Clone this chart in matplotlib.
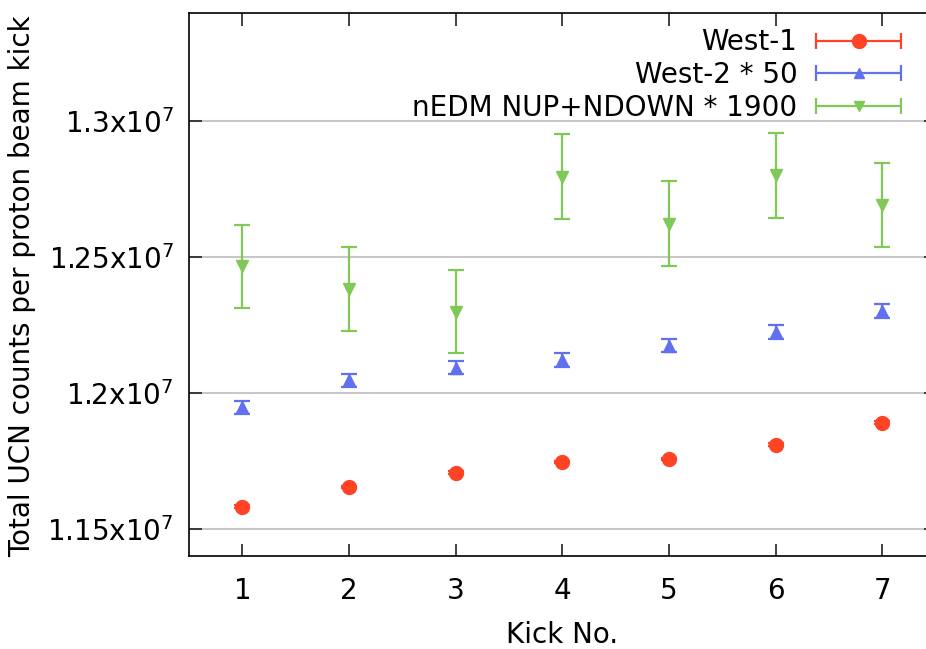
import matplotlib
matplotlib.use('Agg')
import matplotlib.pyplot as plt
from matplotlib.ticker import FixedLocator, FuncFormatter
from matplotlib.legend_handler import HandlerErrorbar
import numpy as np

# kick number
kicks = [1, 2, 3, 4, 5, 6, 7]

# West-1 counts
west1 = [1.1582e7, 1.1655e7, 1.1707e7, 1.1746e7, 1.1757e7, 1.1810e7, 1.1891e7]
west1_err = [4000, 4000, 4000, 4000, 4000, 4000, 4000]

# West-2 counts * 50
west2 = [1.19475e7, 1.20463e7, 1.20933e7, 1.21197e7, 1.21741e7, 1.22248e7, 1.23016e7]
west2_err = [24000, 24500, 25000, 25500, 25000, 25500, 26000]

# nEDM NUP+NDOWN * 1900
nedm = [1.24655e7, 1.23824e7, 1.2299e7, 1.27961e7, 1.26234e7, 1.28012e7, 1.26921e7]
nedm_err = [153000, 153000, 152000, 156000, 155000, 156000, 155000]

yticks = [1.15e7, 1.2e7, 1.25e7, 1.3e7]

red = '#ff4426'
blue = '#6070ee'
green = '#80c858'

plt.rcParams['font.family'] = 'DejaVu Sans'
plt.rcParams['font.size'] = 20

fig = plt.figure(figsize=(9.26, 6.49), dpi=100)
ax = fig.add_axes([189 / 926, 93 / 649, 746.6 / 926, 543.5 / 649])

common = dict(linestyle='none', elinewidth=1.6, capthick=1.6, capsize=5.5)
ax.errorbar(kicks, west1, yerr=west1_err, fmt='o', color=red, ms=10, **common)
ax.errorbar(kicks, west2, yerr=west2_err, fmt='^', color=blue, ms=8, **common)
ax.errorbar(kicks, nedm, yerr=nedm_err, fmt='v', color=green, ms=8, **common)

# legend proxies: horizontal error bar with marker in the middle, like the gnuplot key
h1 = ax.errorbar([np.nan], [np.nan], xerr=[1], fmt='o', color=red, ms=10, label='West-1', **common)
h2 = ax.errorbar([np.nan], [np.nan], xerr=[1], fmt='^', color=blue, ms=7, label='West-2 * 50', **common)
h3 = ax.errorbar([np.nan], [np.nan], xerr=[1], fmt='v', color=green, ms=7,
                 label='nEDM NUP+NDOWN * 1900', **common)

leg = ax.legend(handles=[h1, h2, h3], loc='upper right', bbox_to_anchor=(901 / 926, 1 - 28.5 / 649),
                bbox_transform=fig.transFigure, frameon=False, markerfirst=False, borderpad=0,
                borderaxespad=0, handlelength=3.05, handletextpad=0.68, labelspacing=0.17,
                handler_map={type(h1): HandlerErrorbar(xerr_size=1.52)})

ax.set_xlim(0.5, 7.5)
ax.set_ylim(1.14e7, 1.34e7)
ax.xaxis.set_major_locator(FixedLocator(kicks))
ax.yaxis.set_major_locator(FixedLocator(yticks))
ax.yaxis.set_major_formatter(FuncFormatter(lambda v, p: '%gx10$^{7}$' % (v / 1e7)))

ax.grid(axis='y', color='#c8c8c8', linewidth=1.5)
ax.set_axisbelow(True)
ax.tick_params(direction='in', length=9, width=1.2, top=True, right=True, color='#222222')
ax.tick_params(axis='x', pad=15)
ax.tick_params(axis='y', pad=11)
for s in ax.spines.values():
    s.set_linewidth(1.2)

ax.set_xlabel('Kick No.')
ax.set_ylabel('Total UCN counts per proton beam kick')
ax.xaxis.set_label_coords((561.7 - 189) / 746.6, -0.12)
ax.yaxis.set_label_coords(-0.205, 0.497)

fig.savefig('out.png', dpi=100)
